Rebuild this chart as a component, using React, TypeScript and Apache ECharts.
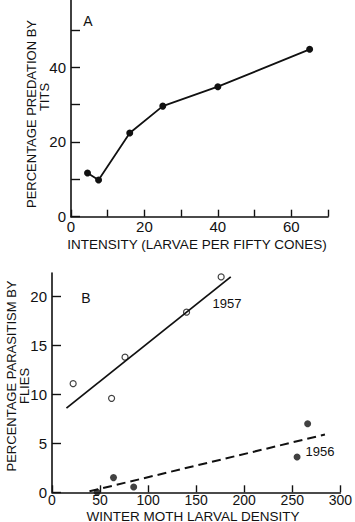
import React, { useEffect, useRef } from "react";
import * as echarts from "echarts";

// Panel A: predation by tits
const aIntensity = [4.5, 7.5, 16, 25, 40, 65];
const aPredation = [11.7, 9.8, 22.4, 29.6, 34.8, 44.8];
const aXTicks = [0, 10, 20, 30, 40, 50, 60, 70];
const aXLabels = [0, 20, 40, 60];
const aYTicks = [0, 10, 20, 30, 40, 50];
const aYLabels = [0, 20, 40];

// Panel B: parasitism by flies
const b1957Density = [22, 62, 76, 140, 176];
const b1957Parasitism = [11.1, 9.6, 13.8, 18.4, 22.0];
const b1956Density = [47, 64, 85, 255, 266];
const b1956Parasitism = [0, 1.5, 0.55, 3.6, 7.0];
const fit1957X = [15, 186];
const fit1957Y = [8.6, 22.0];
const fit1956X = [39, 284];
const fit1956Y = [0.1, 5.9];
const bXTicks = [0, 50, 100, 150, 200, 250, 300];
const bYTicks = [0, 5, 10, 15, 20];

const FONT = "Liberation Sans";
const zip = (xs: number[], ys: number[]) => xs.map((x, i) => [x, ys[i]]);

function txt(text: string, x: number, y: number, size: number, rot = 0) {
  return {
    type: "text",
    x,
    y,
    rotation: rot,
    style: {
      text,
      font: `${size}px "${FONT}"`,
      fill: "#111",
      align: "center",
      verticalAlign: "middle",
      textAlign: "center",
      textVerticalAlign: "middle",
    },
  };
}

function axisCommon(ticks: number[], labels: number[], tickLen: number, labelMargin: number, fontSize: number) {
  return {
    type: "value",
    splitLine: { show: false },
    axisLine: { show: true, lineStyle: { color: "#111", width: 1.6 } },
    axisTick: { show: true, inside: true, length: tickLen, customValues: ticks, lineStyle: { color: "#111", width: 1.4 } },
    axisLabel: { show: true, customValues: labels, color: "#111", fontFamily: FONT, fontSize, margin: labelMargin },
  };
}

export default function App() {
  const ref = useRef<HTMLDivElement>(null);
  useEffect(() => {
    if (!ref.current) return;
    const chart = echarts.init(ref.current, null, { renderer: "svg" });
    chart.setOption({
      animation: false,
      backgroundColor: "#fff",
      grid: [
        { left: 71, top: 0, width: 257, height: 216.7 },
        { left: 52, top: 273, width: 291, height: 219.3 },
      ],
      xAxis: [
        { ...axisCommon(aXTicks, aXLabels, 7, 2, 15), gridIndex: 0, min: 0, max: 70 },
        { ...axisCommon(bXTicks, bXTicks, 7, 1, 14), gridIndex: 1, min: 0, max: 300 },
      ],
      yAxis: [
        { ...axisCommon(aYTicks, aYLabels, 9, 5, 15), gridIndex: 0, min: 0, max: 58 },
        { ...axisCommon(bYTicks, bYTicks, 9, 5, 15), gridIndex: 1, min: 0, max: 22.4 },
      ],
      series: [
        {
          type: "line",
          xAxisIndex: 0,
          yAxisIndex: 0,
          data: zip(aIntensity, aPredation),
          symbol: "circle",
          symbolSize: 7,
          itemStyle: { color: "#111" },
          lineStyle: { color: "#111", width: 1.8 },
        },
        {
          type: "line",
          xAxisIndex: 1,
          yAxisIndex: 1,
          data: zip(fit1957X, fit1957Y),
          symbol: "none",
          lineStyle: { color: "#111", width: 1.8 },
        },
        {
          type: "line",
          xAxisIndex: 1,
          yAxisIndex: 1,
          data: zip(fit1956X, fit1956Y),
          symbol: "none",
          lineStyle: { color: "#111", width: 2, type: [9, 5] },
        },
        {
          type: "scatter",
          xAxisIndex: 1,
          yAxisIndex: 1,
          data: zip(b1957Density, b1957Parasitism),
          symbol: "circle",
          symbolSize: 6,
          itemStyle: { color: "#fff", borderColor: "#111", borderWidth: 1.2 },
        },
        {
          type: "scatter",
          xAxisIndex: 1,
          yAxisIndex: 1,
          data: zip(b1956Density, b1956Parasitism),
          symbol: "circle",
          symbolSize: 7,
          itemStyle: { color: "#111" },
        },
      ],
      graphic: [
        txt("A", 88, 21, 14),
        txt("B", 86, 298, 14),
        txt("1957", 227, 303, 13),
        txt("1956", 320, 451, 13),
        txt("INTENSITY (LARVAE PER FIFTY CONES)", 197, 244, 13.5),
        txt("WINTER MOTH LARVAL DENSITY", 193, 516, 13.5),
        txt("PERCENTAGE PREDATION BY", 31, 114, 13, Math.PI / 2),
        txt("TITS", 44, 97, 13, Math.PI / 2),
        txt("PERCENTAGE PARASITISM BY", 11, 376, 13, Math.PI / 2),
        txt("FLIES", 24, 386, 13, Math.PI / 2),
      ],
    });
    return () => chart.dispose();
  }, []);
  return <div ref={ref} style={{ position: "absolute", left: 0, top: 0, width: 355, height: 522 }} />;
}
